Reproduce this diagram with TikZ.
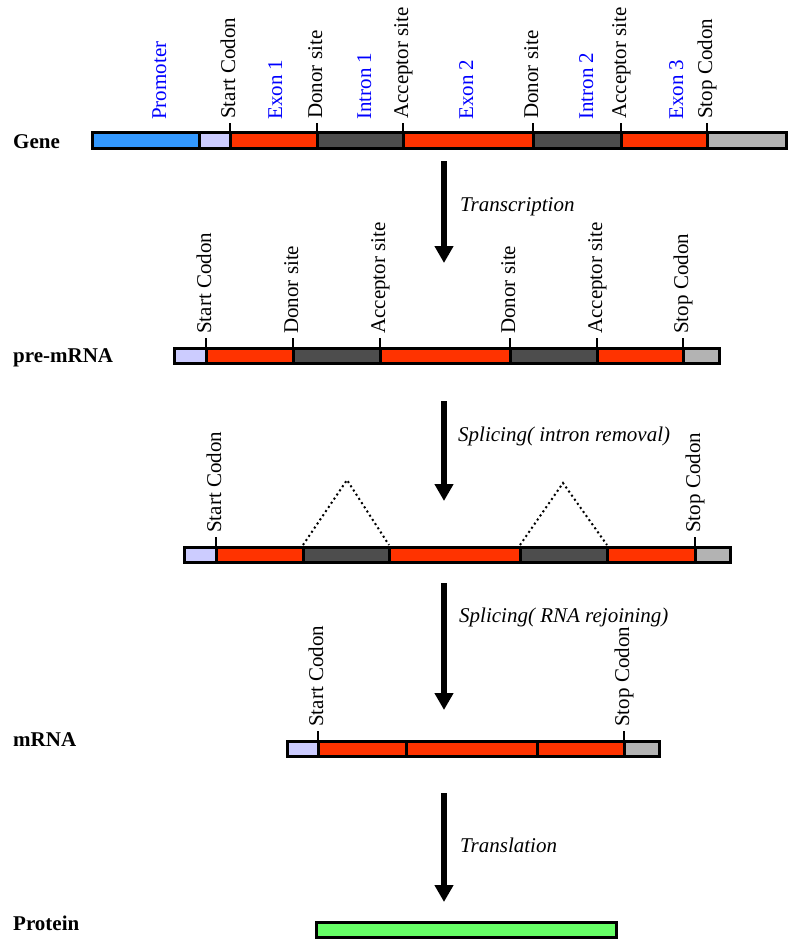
\documentclass[tikz,border=0pt]{standalone}
\usepackage{fontspec}
\setmainfont{Liberation Serif}
\usetikzlibrary{arrows.meta}

\definecolor{promblue}{RGB}{51,153,255}
\definecolor{utrlav}{RGB}{204,204,255}
\definecolor{exonred}{RGB}{255,51,0}
\definecolor{introngray}{RGB}{77,77,77}
\definecolor{utrgray}{RGB}{179,179,179}
\definecolor{protgreen}{RGB}{102,255,102}

\tikzset{
 seg/.style={draw=black, line width=3pt},
 sitetick/.style={black, line width=2.5pt},
 site/.style={rotate=90, anchor=west, inner xsep=3pt, inner ysep=0pt, text height=14.5pt, text depth=4.5pt, font=\fontsize{21}{25}\selectfont},
 part/.style={site, text=blue},
 rowname/.style={anchor=base west, inner sep=0pt, font=\fontsize{21}{25}\selectfont\bfseries},
 steplabel/.style={anchor=base west, inner sep=0pt, font=\fontsize{21}{25}\selectfont\itshape},
 flow/.style={line width=6pt, ->, >={Triangle[length=17pt,width=18pt]}},
 splice/.style={line width=2pt, dash pattern=on 2pt off 3pt},
}

\begin{document}
\begin{tikzpicture}[x=1pt,y=-1pt]
\useasboundingbox (0,0) rectangle (788,939);

% gene
\node[rowname] (gene) at (13,149) {Gene};
\foreach \a/\b/\c in {92/199/promblue, 199/230/utrlav, 230/317/exonred, 317/403/introngray, 403/533/exonred, 533/621/introngray, 621/707/exonred, 707/786/utrgray}
 \draw[seg, fill=\c] (\a,133) rectangle (\b,148);
\foreach \x/\t [count=\i] in {230/Start Codon, 317/Donor site, 403/Acceptor site, 533/Donor site, 621/Acceptor site, 707/Stop Codon}
 \draw[sitetick] (\x,133) -- ++(0,-10) node[site] (gs\i) {\t};
\foreach \x/\t [count=\i] in {161/Promoter, 277/Exon 1, 366/Intron 1, 468/Exon 2, 588/Intron 2, 678/Exon 3}
 \node[part] (gp\i) at (\x,123) {\t};

\coordinate (tr1) at (444,161);
\coordinate (tr2) at (444,263);
\draw[flow] (tr1) -- (tr2);
\node[steplabel] (trlabel) at (460,211) {Transcription};

% pre-mRNA
\node[rowname] (pre) at (13,362) {pre-mRNA};
\foreach \a/\b/\c in {174/206/utrlav, 206/293/exonred, 293/380/introngray, 380/510/exonred, 510/597/introngray, 597/683/exonred, 683/719/utrgray}
 \draw[seg, fill=\c] (\a,348) rectangle (\b,363);
\foreach \x/\t [count=\i] in {206/Start Codon, 293/Donor site, 380/Acceptor site, 510/Donor site, 597/Acceptor site, 683/Stop Codon}
 \draw[sitetick] (\x,348) -- ++(0,-10) node[site] (ps\i) {\t};

\coordinate (sp1) at (444,401);
\coordinate (sp2) at (444,501);
\draw[flow] (sp1) -- (sp2);
\node[steplabel] (splabel) at (458,441) {Splicing( intron removal)};

% splicing
\foreach \a/\b/\c in {184/216/utrlav, 216/303/exonred, 303/389/introngray, 389/520/exonred, 520/607/introngray, 607/695/exonred, 695/730/utrgray}
 \draw[seg, fill=\c] (\a,547) rectangle (\b,562);
\draw[sitetick] (216,547) -- ++(0,-10) node[site] (ss1) {Start Codon};
\draw[sitetick] (695,547) -- ++(0,-10) node[site] (ss2) {Stop Codon};
\draw[splice] (303,545) -- (347,480) -- (389,545);
\draw[splice] (520,545) -- (563,483) -- (607,545);

\coordinate (rj1) at (444,583);
\coordinate (rj2) at (444,710);
\draw[flow] (rj1) -- (rj2);
\node[steplabel] (rjlabel) at (459,622) {Splicing( RNA rejoining)};

% mRNA
\node[rowname] (mrna) at (13,746) {mRNA};
\foreach \a/\b/\c in {287/318/utrlav, 318/406/exonred, 406/537/exonred, 537/624/exonred, 624/659/utrgray}
 \draw[seg, fill=\c] (\a,741) rectangle (\b,756);
\draw[sitetick] (318,741) -- ++(0,-10) node[site] (ms1) {Start Codon};
\draw[sitetick] (624,741) -- ++(0,-10) node[site] (ms2) {Stop Codon};

\coordinate (tl1) at (444,793);
\coordinate (tl2) at (444,902);
\draw[flow] (tl1) -- (tl2);
\node[steplabel] (tllabel) at (460,852) {Translation};

% protein
\node[rowname] (prot) at (13,930) {Protein};
\draw[seg, fill=protgreen] (316,922) rectangle (616,937);
\end{tikzpicture}
\end{document}
